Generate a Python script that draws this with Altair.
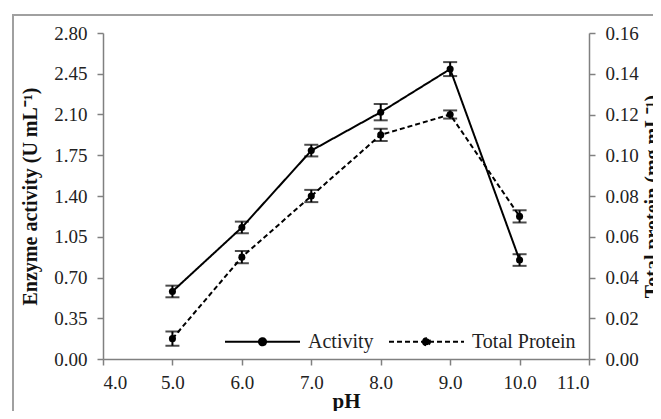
import altair as alt
import pandas as pd

ph = [5.0, 6.0, 7.0, 8.0, 9.0, 10.0]
activity = [0.58, 1.13, 1.79, 2.12, 2.49, 0.85]
activity_err = [0.05, 0.05, 0.05, 0.07, 0.06, 0.05]
protein = [0.010, 0.050, 0.080, 0.110, 0.120, 0.070]
protein_err = [0.0035, 0.003, 0.003, 0.003, 0.002, 0.003]

series_names = ["Activity", "Total Protein"]
x_ticks = [4.0, 5.0, 6.0, 7.0, 8.0, 9.0, 10.0, 11.0]
left_ticks = [0.00, 0.35, 0.70, 1.05, 1.40, 1.75, 2.10, 2.45, 2.80]
right_ticks = [0.00, 0.02, 0.04, 0.06, 0.08, 0.10, 0.12, 0.14, 0.16]

act_df = pd.DataFrame({
    "pH": ph, "val": activity,
    "lo": [a - e for a, e in zip(activity, activity_err)],
    "hi": [a + e for a, e in zip(activity, activity_err)],
    "series": series_names[0],
})
pro_df = pd.DataFrame({
    "pH": ph, "val": protein,
    "lo": [a - e for a, e in zip(protein, protein_err)],
    "hi": [a + e for a, e in zip(protein, protein_err)],
    "series": series_names[1],
})

FONT = "Liberation Serif"
W, H = 486, 326

x_enc = alt.X("pH:Q", scale=alt.Scale(domain=[4, 11], nice=False, zero=False),
              axis=alt.Axis(values=x_ticks, format=".1f", title="pH", grid=False,
                            titleFontSize=21, titleFontWeight="bold",
                            titleY=42, titleBaseline="middle", labelPadding=8))

left_axis = alt.Axis(values=left_ticks, format=".2f", orient="left", grid=False,
                     title="Enzyme activity (U mL⁻¹)", titleFontSize=20,
                     titleFontWeight="bold", titleAngle=270, titleX=-73,
                     titleY=H / 2, titleBaseline="middle", titleAlign="center",
                     labelPadding=10)
right_axis = alt.Axis(values=right_ticks, format=".2f", orient="right", grid=False,
                      title="Total protein (mg mL⁻¹)", titleFontSize=20,
                      titleFontWeight="bold", titleAngle=270, titleX=63,
                      titleY=H / 2, titleBaseline="middle", titleAlign="center",
                      labelPadding=10)
left_scale = alt.Scale(domain=[0, 2.8], nice=False)
right_scale = alt.Scale(domain=[0, 0.16], nice=False)

legend = alt.Legend(title=None, orient="none", legendX=121, legendY=270,
                    direction="horizontal",
                    symbolType="M-1,0H1M-0.095,0A0.095,0.095,0,1,0,0.095,0A0.095,0.095,0,1,0,-0.095,0",
                    symbolSize=5625, symbolStrokeWidth=2, symbolStrokeColor="black",
                    symbolFillColor="black", labelFont=FONT, labelFontSize=20,
                    labelColor="#222", labelOffset=7, columnPadding=11)
dash = alt.StrokeDash("series:N",
                      scale=alt.Scale(domain=series_names, range=[[1, 0], [5, 3]]),
                      legend=legend)


def side(df, axis, scale):
    y = alt.Y("val:Q", scale=scale, axis=axis)
    base = alt.Chart(df)
    line = base.mark_line(color="black", strokeWidth=2).encode(x=x_enc, y=y, strokeDash=dash)
    pts = base.mark_point(filled=True, color="black", size=50, opacity=1).encode(x=x_enc, y=y)
    err = base.mark_errorbar(ticks=True, size=14, thickness=2, color="black").encode(
        x=x_enc, y=alt.Y("lo:Q", scale=scale, axis=axis), y2="hi:Q")
    return alt.layer(line, err, pts)


frame = alt.Chart(pd.DataFrame({"k": [0]})).mark_rect(
    fill=None, stroke="#a0a0a0", strokeWidth=2).encode(
    x=alt.value(-90), x2=alt.value(700), y=alt.value(-18), y2=alt.value(600))

chart = alt.layer(
    frame,
    side(act_df, left_axis, left_scale),
    side(pro_df, right_axis, right_scale),
).resolve_scale(y="independent").properties(
    width=W, height=H,
    background="white",
    autosize=alt.AutoSizeParams(type="none"),
    padding={"left": 95, "top": 25, "right": 64, "bottom": 52},
).configure_view(stroke=None).configure_axis(
    grid=False, domainColor="#808080", tickColor="#808080", tickSize=6,
    domainWidth=1.5, tickWidth=1.5,
    labelFont=FONT, labelFontSize=19, labelColor="#222",
    titleFont=FONT, titleColor="#111",
).configure_legend(
    labelFont=FONT, labelFontSize=20, labelColor="#222",
)

chart.save("out.html", embed_options={"renderer": "svg", "actions": False})
